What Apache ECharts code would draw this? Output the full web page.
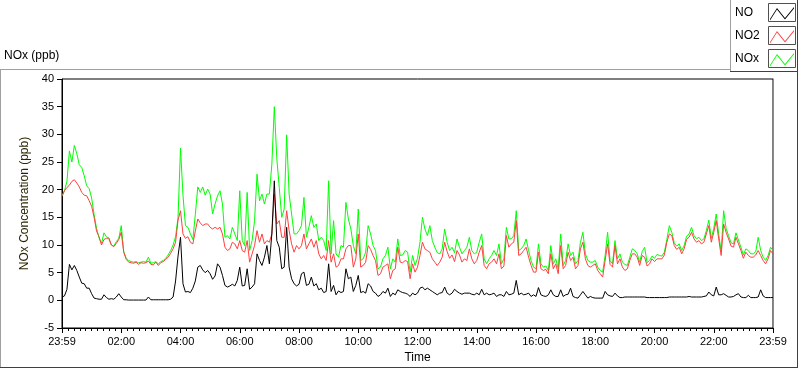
<!DOCTYPE html>
<html><head><meta charset="utf-8">
<script src="https://cdn.jsdelivr.net/npm/echarts@6/dist/echarts.min.js"></script>
<style>html,body{margin:0;padding:0;background:#fff}#c{width:800px;height:369px}</style>
</head><body><div id="c"></div>
<script>
// ---- data (5-minute samples, starting 23:59) ----
const seriesNames = ['NO', 'NO2', 'NOx'];
const startMinute = -1;      // 23:59 of the previous day, minutes after midnight
const stepMinutes = 5;

const noValues = [
 0.6, 0.8, 2, 6.5, 5.5, 6.3, 5.4, 4.2, 3.1, 3,
 2.2, 2.2, 1.2, 0.4, 0.3, 0.2, 0.2, 1, 0.5, 0.2,
 0.3, 0.2, 0.6, 1.2, 0.6, 0.1, 0.1, 0.05, 0.05, 0.05,
 0.05, 0.05, 0.05, 0.05, 0.05, 0.6, 0.1, 0.1, 0.1, 0.1,
 0.1, 0.1, 0.1, 0.1, 0.2, 0.6, 3.5, 8, 11.4, 3,
 1.5, 1.6, 1.4, 2.2, 3.5, 6, 6.3, 5.5, 5, 5.4,
 4.8, 3.8, 4.4, 6.6, 6, 4.5, 2.7, 2.4, 2.6, 2.9,
 2.6, 3.6, 6, 2.6, 2.7, 5.7, 2, 2.4, 3, 8.4,
 7.2, 6.3, 7.8, 9.9, 6.6, 12, 21.6, 10.8, 9.6, 5.7,
 6, 13.2, 6, 3.9, 3, 2.6, 2.9, 4.8, 5.1, 2.7,
 2.9, 4.2, 2.6, 3, 1.9, 2.2, 1.4, 1.6, 6.6, 1.6,
 2.7, 1, 1.7, 1.4, 1.6, 5.7, 3.9, 4.2, 1.6, 2.7,
 4.5, 1.4, 1.6, 1.3, 3, 2.6, 1.6, 1.3, 0.7, 1,
 1.6, 1.3, 2.2, 0.7, 1.3, 1, 1.9, 1.6, 1.4, 1.3,
 1.1, 0.7, 1.3, 1, 1.3, 2.2, 2.4, 1.9, 2.2, 1.9,
 1.6, 1.3, 1, 1.3, 1.4, 2.4, 1.3, 1, 1.3, 2,
 1.6, 1.3, 1.1, 1.3, 1.3, 1.3, 1.1, 1, 1.3, 1,
 2, 1, 1.3, 1, 1.1, 1.3, 0.7, 1, 1, 0.7,
 1.6, 1, 1.1, 1.3, 3.6, 1, 1.3, 1, 1.1, 1.3,
 0.7, 1, 0.7, 2.3, 1, 0.8, 0.7, 1, 1.9, 1,
 0.7, 0.7, 1.9, 0.7, 1, 1.1, 2.2, 0.7, 0.5, 0.4,
 1, 1.6, 1, 0.4, 0.7, 0.5, 0.4, 0.4, 0.4, 0.4,
 1.6, 1, 0.8, 0.7, 1.3, 0.8, 0.5, 0.5, 0.6, 0.6,
 0.6, 0.6, 0.6, 0.6, 0.6, 0.6, 0.6, 0.5, 0.5, 0.5,
 0.5, 0.5, 0.5, 0.5, 0.5, 0.5, 0.6, 0.6, 0.6, 0.6,
 0.6, 0.6, 0.6, 0.6, 0.7, 0.6, 0.6, 0.6, 0.6, 0.6,
 0.7, 0.8, 1.5, 1, 0.8, 2.4, 1, 1, 1.2, 0.9,
 0.6, 0.6, 0.7, 1, 1.2, 0.6, 0.5, 0.5, 0.9, 0.5,
 0.5, 0.5, 0.6, 1.9, 0.8, 0.5, 0.5, 0.5, 0.5
];

const no2Values = [
 18.8, 19.8, 20.4, 20.8, 21.5, 21.8, 21.2, 20.5, 19.5, 19,
 18.9, 18, 17, 15, 12.5, 11.5, 10, 11, 11.2, 11.3,
 10, 9.7, 10.3, 11, 12.3, 8.7, 7.4, 6.9, 6.8, 6.7,
 6.9, 6.5, 6.8, 6.7, 6.8, 7.1, 6.5, 6.4, 6.9, 6.3,
 6.8, 7, 7.4, 7.8, 8.5, 9.3, 10.5, 14.5, 16.2, 12,
 11.2, 11.5, 10.5, 10.2, 12.5, 14.7, 14, 13.5, 13.8, 13.8,
 13.2, 12.9, 13.2, 12.9, 13.2, 12, 9.6, 9, 9.3, 10.5,
 10.2, 9.3, 10.8, 9, 8.7, 10.8, 6.9, 8.4, 9.9, 12.6,
 10.5, 12, 10.2, 10.8, 10.5, 12, 19.2, 13.8, 14.4, 11.4,
 11.4, 16.2, 12.6, 10.2, 8.7, 9.9, 9.3, 9.9, 12, 9.3,
 10.2, 11.1, 9.6, 10.8, 8.4, 7.5, 8.1, 7.2, 10.8, 6.9,
 8.4, 6, 6.3, 7.5, 7.5, 9.3, 9.9, 9.9, 6, 7.5,
 12, 6, 6.3, 6.9, 9.9, 9.2, 8.1, 7.2, 4.5, 4.8,
 6, 6.3, 6.6, 3.9, 5.4, 5.7, 9.6, 6.9, 6.8, 7.2,
 7, 3.9, 6.6, 5.1, 6, 8.1, 10.5, 9.3, 9, 8.7,
 7.5, 6.9, 6.3, 6.9, 7.8, 10.5, 8.8, 7.6, 8.2, 7,
 9, 8.2, 6.9, 7.5, 7.2, 9.3, 7.5, 6.6, 7.2, 8.7,
 9.9, 6.3, 5.7, 6.6, 6.9, 7.5, 6.6, 8.4, 5.7, 6.2,
 11.7, 9.6, 10.2, 10.5, 14.4, 8.1, 8.4, 9, 9.6, 7.8,
 6.3, 5.1, 5.1, 8.7, 5.7, 5.4, 5.6, 4.8, 8.4, 5.7,
 6.6, 4.8, 9.9, 5.7, 6.3, 8.7, 7.2, 7.8, 5.7, 6.3,
 9.3, 10.5, 7.5, 6.3, 6, 6.3, 6.6, 5.4, 4.8, 4.2,
 7.2, 10.2, 6.5, 6, 9.9, 6.6, 7.5, 6, 5.4, 5.7,
 7.2, 8.4, 8.4, 7.8, 6.3, 8.1, 7.8, 6.2, 6.6, 7.5,
 7, 7.5, 7.5, 7.5, 8.2, 10.5, 12, 11.7, 9.9, 9.2,
 9.6, 8.4, 9.3, 11, 11.4, 12.3, 11.1, 10.5, 10.8, 10.2,
 10.5, 12, 13.5, 10.5, 12.3, 14.4, 11.1, 8.1, 13.8, 12.3,
 11.1, 9.8, 9.6, 11.4, 10.2, 9, 7.6, 8.7, 8.1, 7.8,
 7.8, 8.2, 9, 8.1, 7.2, 6.6, 7.5, 9, 8.4
];

const noxValues = [
 18.9, 19.8, 21.5, 27, 25, 28, 26.5, 24.5, 24, 22.5,
 20.7, 20.2, 18.5, 15.5, 13, 11.3, 10.3, 12.2, 11.5, 11,
 10, 9.8, 10.6, 11.2, 13.5, 8.8, 7.6, 7.2, 7, 6.9,
 7, 6.8, 6.9, 7, 6.9, 7.8, 6.7, 6.8, 7, 6.6,
 7, 7.2, 7.6, 8.2, 9, 10, 11.5, 15, 27.5, 19,
 13.5, 13.2, 12, 11, 15.5, 20.5, 19.5, 20.5, 19, 20.1,
 19.2, 15.6, 17.4, 18.9, 19.8, 17.4, 11.4, 11.7, 11.1, 13.2,
 12, 10.8, 19.8, 10.8, 9.9, 19.5, 9, 10.8, 14.4, 22.8,
 18, 19.2, 17.4, 19.2, 19.2, 24.6, 35, 25.7, 20.4, 15,
 16.5, 29.9, 19.2, 15.6, 12, 12, 12.6, 13.5, 18.6, 11.4,
 13.2, 15.3, 13.2, 13.8, 10.8, 11.4, 10.8, 9, 21.6, 8.4,
 14.4, 8.4, 7.8, 9.9, 9.6, 17.7, 14.7, 12.9, 9.9, 8.4,
 16.5, 7.2, 7.5, 8.7, 13.5, 12, 9.9, 9, 5.7, 6,
 7.5, 8.1, 9.6, 5.7, 7.5, 6.9, 11.1, 8.1, 8.2, 9,
 8.7, 5.1, 8.1, 6.3, 7.6, 10.5, 15, 12.9, 11.7, 13.5,
 10.8, 9.6, 8.6, 8.4, 9.3, 12.9, 10.5, 9, 9.6, 8.6,
 11.1, 9.6, 8.4, 9, 9.6, 11.4, 9, 8.4, 8.7, 10.5,
 12, 7.5, 6.6, 7.5, 8.1, 9, 8.1, 10.2, 6.6, 7.5,
 13.2, 11.1, 11.1, 11.7, 16.2, 9, 9.3, 9.9, 11.1, 9,
 7.2, 6, 5.7, 10.2, 6.6, 6, 6.2, 5.4, 9.9, 6.6,
 7.5, 5.7, 12, 6.3, 7.2, 10.2, 8.1, 8.7, 6.6, 7.2,
 10.5, 12.3, 8.4, 7.2, 6.9, 6.9, 7.2, 6, 5.4, 5.1,
 8.1, 12.3, 7.2, 6.6, 10.8, 7.5, 8.4, 6.9, 6.5, 6.3,
 7.8, 9.3, 9, 8.4, 6.9, 8.8, 9.6, 6.8, 7.2, 8,
 7.6, 8.3, 8.1, 8, 8.7, 11, 13.5, 12.3, 10.4, 9.8,
 10.2, 9, 9.9, 11.6, 12, 13.2, 11.7, 11.1, 11.4, 10.8,
 11.1, 12.6, 14.5, 11.2, 13, 15.6, 12, 8.8, 16.2, 13,
 11.7, 10.4, 10.2, 12.2, 10.9, 9.6, 8.2, 9.3, 9, 8.4,
 8.4, 8.8, 11.4, 9, 7.8, 7.2, 8.1, 9.6, 9
];

// x-axis tick labels (one every 120 minutes, counted from the 23:59 start)
const xMin = -1, xMax = 1439, xStep = 120;
const xLabelTexts = ['23:59', '02:00', '04:00', '06:00', '08:00', '10:00', '12:00', '14:00', '16:00', '18:00', '20:00', '22:00', '23:59'];

const yMin = -5, yMax = 40, yStep = 5;

// ---- build ----
const times = noValues.map((_, i) => startMinute + i * stepMinutes);
const pairs = arr => arr.map((v, i) => [times[i], v]);

const FONT = 'Liberation Sans';
const colors = { NO: '#000000', NO2: '#ff4040', NOx: '#00ff00' };
const zig = 'path://M0 0 L0.01 0 Z M28 19 L28.01 19 Z M2 16 L9 5 L17 15 L26 4 L26 5.4 L17 16.4 L9 6.4 L2 17.4 Z';
const fmtX = v => xLabelTexts[Math.round((v - xMin) / xStep)] || '';

const chart = echarts.init(document.getElementById('c'), null, { renderer: 'canvas' });
chart.setOption({
  animation: false,
  backgroundColor: '#ffffff',
  textStyle: { fontFamily: FONT },
  title: {
    text: 'NOx (ppb)', left: 4, top: 50, padding: 0,
    textStyle: { fontSize: 12, fontWeight: 'normal', color: '#000', fontFamily: FONT }
  },
  legend: {
    data: seriesNames,
    orient: 'vertical', left: 735, top: 3, padding: 0,
    align: 'right', itemWidth: 28, itemHeight: 19, itemGap: 4,
    icon: zig, selectedMode: false, z: 10,
    formatter: n => '{t|' + n + '}',
    textStyle: { fontSize: 12, color: '#000', fontFamily: FONT,
      rich: { t: { width: 28, align: 'left', fontSize: 12, color: '#000', fontFamily: FONT } } }
  },
  grid: {
    left: 62, right: 27, top: 79, bottom: 39,
    show: true, borderColor: '#000', borderWidth: 1, backgroundColor: '#fff'
  },
  xAxis: {
    type: 'value', min: xMin, max: xMax, interval: xStep, position: 'bottom',
    name: 'Time', nameLocation: 'middle', nameGap: 24,
    nameTextStyle: { fontSize: 12, color: '#000', fontFamily: FONT },
    axisLine: { show: true, onZero: false, lineStyle: { color: '#000', width: 1 } },
    axisTick: { show: true, length: 5, lineStyle: { color: '#000', width: 1 } },
    minorTick: { show: true, splitNumber: 10, length: 3, lineStyle: { color: '#000', width: 1 } },
    axisLabel: { margin: 8, fontSize: 11, color: '#000', fontFamily: FONT, formatter: fmtX,
      showMinLabel: true, showMaxLabel: true },
    splitLine: { show: false }, minorSplitLine: { show: false }
  },
  yAxis: [{
    type: 'value', min: yMin, max: yMax, interval: yStep, position: 'left',
    name: 'NOx Concentration (ppb)', nameLocation: 'middle', nameGap: 27,
    nameTextStyle: { fontSize: 12, color: '#2a2400', fontFamily: FONT },
    axisLine: { show: true, onZero: false, lineStyle: { color: '#000', width: 1 } },
    axisTick: { show: true, length: 5, lineStyle: { color: '#000' } },
    axisLabel: { margin: 8, fontSize: 11, color: '#000', fontFamily: FONT },
    splitLine: { show: false }
  }, {
    type: 'value', min: yMin, max: yMax, interval: yStep, position: 'right',
    axisLine: { show: true, onZero: false, lineStyle: { color: '#8a8a8a', width: 1 } },
    axisTick: { show: false }, axisLabel: { show: false }, splitLine: { show: false }
  }],
  series: [
    { name: 'NOx', type: 'line', data: pairs(noxValues), color: colors.NOx, showSymbol: false,
      lineStyle: { width: 1, color: colors.NOx }, z: 2 },
    { name: 'NO2', type: 'line', data: pairs(no2Values), color: colors.NO2, showSymbol: false,
      lineStyle: { width: 1, color: colors.NO2 }, z: 3 },
    { name: 'NO', type: 'line', data: pairs(noValues), color: colors.NO, showSymbol: false,
      lineStyle: { width: 1, color: colors.NO }, z: 4 }
  ],
  graphic: [
    // outer panel frame
    { type: 'line', z: 0, shape: { x1: 0, y1: 69.5, x2: 730, y2: 69.5 }, style: { stroke: '#a0a0a0', lineWidth: 1 } },
    { type: 'line', z: 0, shape: { x1: 0.5, y1: 69, x2: 0.5, y2: 368 }, style: { stroke: '#a0a0a0', lineWidth: 1 } },
    { type: 'line', z: 0, shape: { x1: 0, y1: 367.5, x2: 798, y2: 367.5 }, style: { stroke: '#404040', lineWidth: 1 } },
    { type: 'line', z: 0, shape: { x1: 797.5, y1: 0, x2: 797.5, y2: 368 }, style: { stroke: '#404040', lineWidth: 1 } },
    // legend frame
    { type: 'line', z: 0, shape: { x1: 730.5, y1: 0, x2: 730.5, y2: 72 }, style: { stroke: '#a0a0a0', lineWidth: 1 } },
    { type: 'line', z: 0, shape: { x1: 730, y1: 71.5, x2: 798, y2: 71.5 }, style: { stroke: '#404040', lineWidth: 1 } },
    // legend swatch boxes
    { type: 'rect', z: 1, shape: { x: 768.5, y: 3.5, width: 27, height: 18 }, style: { fill: '#fff', stroke: '#505050', lineWidth: 1 } },
    { type: 'rect', z: 1, shape: { x: 768.5, y: 26.5, width: 27, height: 18 }, style: { fill: '#fff', stroke: '#505050', lineWidth: 1 } },
    { type: 'rect', z: 1, shape: { x: 768.5, y: 49.5, width: 27, height: 18 }, style: { fill: '#fff', stroke: '#505050', lineWidth: 1 } }
  ]
});
</script>
</body></html>
